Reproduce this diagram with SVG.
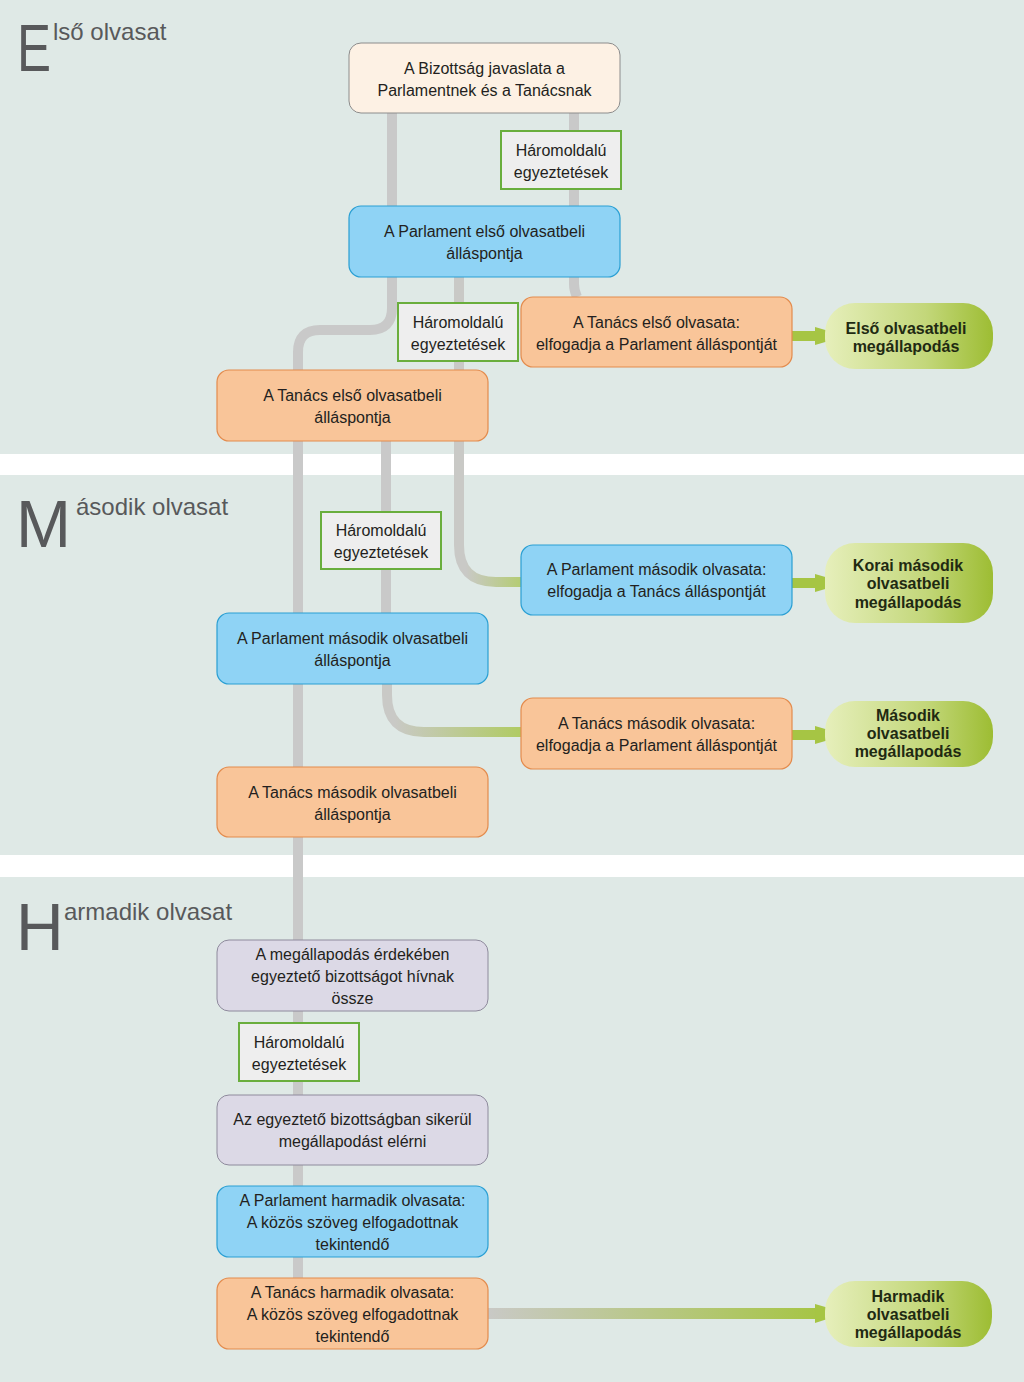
<svg xmlns="http://www.w3.org/2000/svg" width="1024" height="1382" viewBox="0 0 1024 1382">
<defs>
<style>
.t{font-family:"Liberation Sans",Arial,sans-serif;font-size:16px;fill:#231f20;text-anchor:middle}
.g{font-family:"Liberation Sans",Arial,sans-serif;font-size:16px;font-weight:bold;fill:#1f2a12;text-anchor:middle}
.sec{font-family:"Liberation Sans",Arial,sans-serif;fill:#58595b}
.big{font-size:66px}
.small{font-size:24px}
.cream{fill:#fdf1e4;stroke:#8c8c8c;stroke-width:1}
.blue{fill:#8fd3f5;stroke:#2a9fd3;stroke-width:1.2}
.orange{fill:#f9c599;stroke:#e38b4d;stroke-width:1.2}
.lav{fill:#dcd9e6;stroke:#8e8a9c;stroke-width:1}
.tri{fill:#eeeeee;stroke:#6aae3d;stroke-width:2}
.green{fill:url(#gg)}
.line{fill:none;stroke:#c9c9c9;stroke-width:10}
.arr{fill:#a6c544}
</style>
<linearGradient id="gg" x1="0" y1="0" x2="1" y2="0">
<stop offset="0" stop-color="#e6efbb"/>
<stop offset="0.6" stop-color="#c3d77a"/>
<stop offset="1" stop-color="#9dbd33"/>
</linearGradient>
<linearGradient id="gD" gradientUnits="userSpaceOnUse" x1="466" y1="0" x2="522" y2="0">
<stop offset="0" stop-color="#c9c9c6"/>
<stop offset="1" stop-color="#b4cc72"/>
</linearGradient>
<linearGradient id="gE" gradientUnits="userSpaceOnUse" x1="394" y1="0" x2="522" y2="0">
<stop offset="0" stop-color="#c9c9c6"/>
<stop offset="1" stop-color="#b0cb62"/>
</linearGradient>
<linearGradient id="gB" gradientUnits="userSpaceOnUse" x1="488" y1="0" x2="820" y2="0">
<stop offset="0" stop-color="#c9c9c6"/>
<stop offset="1" stop-color="#a6c544"/>
</linearGradient>
</defs>

<!-- background -->
<rect x="0" y="0" width="1024" height="1382" fill="#ffffff"/>
<rect x="0" y="0" width="1024" height="454" fill="#dfe9e6"/>
<rect x="0" y="475" width="1024" height="380" fill="#dfe9e6"/>
<rect x="0" y="877" width="1024" height="505" fill="#dfe9e6"/>

<!-- section titles -->
<g id="title1">
<text class="sec big" x="17" y="71" textLength="34" lengthAdjust="spacingAndGlyphs">E</text>
<text class="sec small" x="53" y="40">lső olvasat</text>
</g>
<g id="title2">
<text class="sec big" x="16" y="547">M</text>
<text class="sec small" x="76" y="515">ásodik olvasat</text>
</g>
<g id="title3">
<text class="sec big" x="16" y="950">H</text>
<text class="sec small" x="64" y="920">armadik olvasat</text>
</g>

<!-- connectors -->
<g id="connectors">
<path class="line" d="M392,113 V206"/>
<path class="line" d="M574,113 V206"/>
<path class="line" d="M574,277 V284 Q574,290 577,297"/>
<path class="line" d="M392,277 V308 Q392,330 370,330 H320 Q298,330 298,352 V1300"/>
<path class="line" d="M459,277 V545 Q459,582 496,582 H522" style="stroke:url(#gD)"/>
<path class="line" d="M386,441 V613"/>
<path class="line" d="M387,684 V695 Q387,732 424,732 H522" style="stroke:url(#gE)"/>
<rect x="488" y="1308" width="332" height="11" fill="url(#gB)"/>
<rect class="arr" x="792" y="331" width="26" height="10"/>
<polygon class="arr" points="815,327 846,336 815,345"/>
<rect class="arr" x="792" y="578" width="26" height="10"/>
<polygon class="arr" points="815,574 846,583 815,592"/>
<rect class="arr" x="792" y="730" width="26" height="10"/>
<polygon class="arr" points="815,726 846,735 815,744"/>
<polygon class="arr" points="815,1304 846,1313 815,1323"/>
</g>

<!-- nodes -->
<g id="n-commission">
<rect class="cream" x="349" y="43" width="271" height="70" rx="12"/>
<text class="t" x="484.5" y="74">A Bizottság javaslata a</text>
<text class="t" x="484.5" y="96">Parlamentnek és a Tanácsnak</text>
</g>
<g id="n-tri1">
<rect class="tri" x="501" y="131" width="120" height="58"/>
<text class="t" x="561" y="156">Háromoldalú</text>
<text class="t" x="561" y="178">egyeztetések</text>
</g>
<g id="n-ep1pos">
<rect class="blue" x="349" y="206" width="271" height="71" rx="12"/>
<text class="t" x="484.5" y="237">A Parlament első olvasatbeli</text>
<text class="t" x="484.5" y="259">álláspontja</text>
</g>
<g id="n-tri2">
<rect class="tri" x="398" y="303" width="120" height="58"/>
<text class="t" x="458" y="328">Háromoldalú</text>
<text class="t" x="458" y="350">egyeztetések</text>
</g>
<g id="n-co1read">
<rect class="orange" x="521" y="297" width="271" height="70" rx="12"/>
<text class="t" x="656.5" y="328">A Tanács első olvasata:</text>
<text class="t" x="656.5" y="350">elfogadja a Parlament álláspontját</text>
</g>
<g id="n-agr1">
<rect class="green" x="825" y="303" width="168" height="66" rx="30"/>
<text class="g" x="906" y="334">Első olvasatbeli</text>
<text class="g" x="906" y="352">megállapodás</text>
</g>
<g id="n-co1pos">
<rect class="orange" x="217" y="370" width="271" height="71" rx="12"/>
<text class="t" x="352.5" y="401">A Tanács első olvasatbeli</text>
<text class="t" x="352.5" y="423">álláspontja</text>
</g>

<g id="n-tri3">
<rect class="tri" x="321" y="512" width="120" height="57"/>
<text class="t" x="381" y="536">Háromoldalú</text>
<text class="t" x="381" y="558">egyeztetések</text>
</g>
<g id="n-ep2read">
<rect class="blue" x="521" y="545" width="271" height="70" rx="12"/>
<text class="t" x="656.5" y="575">A Parlament második olvasata:</text>
<text class="t" x="656.5" y="597">elfogadja a Tanács álláspontját</text>
</g>
<g id="n-agr2">
<rect class="green" x="825" y="543" width="168" height="80" rx="30"/>
<text class="g" x="908" y="571">Korai második</text>
<text class="g" x="908" y="589">olvasatbeli</text>
<text class="g" x="908" y="608">megállapodás</text>
</g>
<g id="n-ep2pos">
<rect class="blue" x="217" y="613" width="271" height="71" rx="12"/>
<text class="t" x="352.5" y="644">A Parlament második olvasatbeli</text>
<text class="t" x="352.5" y="666">álláspontja</text>
</g>
<g id="n-co2read">
<rect class="orange" x="521" y="698" width="271" height="71" rx="12"/>
<text class="t" x="656.5" y="729">A Tanács második olvasata:</text>
<text class="t" x="656.5" y="751">elfogadja a Parlament álláspontját</text>
</g>
<g id="n-agr3">
<rect class="green" x="825" y="701" width="168" height="66" rx="30"/>
<text class="g" x="908" y="721">Második</text>
<text class="g" x="908" y="739">olvasatbeli</text>
<text class="g" x="908" y="757">megállapodás</text>
</g>
<g id="n-co2pos">
<rect class="orange" x="217" y="767" width="271" height="70" rx="12"/>
<text class="t" x="352.5" y="798">A Tanács második olvasatbeli</text>
<text class="t" x="352.5" y="820">álláspontja</text>
</g>

<g id="n-conc">
<rect class="lav" x="217" y="940" width="271" height="71" rx="12"/>
<text class="t" x="352.5" y="960">A megállapodás érdekében</text>
<text class="t" x="352.5" y="982">egyeztető bizottságot hívnak</text>
<text class="t" x="352.5" y="1004">össze</text>
</g>
<g id="n-tri4">
<rect class="tri" x="239" y="1023" width="120" height="58"/>
<text class="t" x="299" y="1048">Háromoldalú</text>
<text class="t" x="299" y="1070">egyeztetések</text>
</g>
<g id="n-concagr">
<rect class="lav" x="217" y="1095" width="271" height="70" rx="12"/>
<text class="t" x="352.5" y="1125">Az egyeztető bizottságban sikerül</text>
<text class="t" x="352.5" y="1147">megállapodást elérni</text>
</g>
<g id="n-ep3">
<rect class="blue" x="217" y="1186" width="271" height="71" rx="12"/>
<text class="t" x="352.5" y="1206">A Parlament harmadik olvasata:</text>
<text class="t" x="352.5" y="1228">A közös szöveg elfogadottnak</text>
<text class="t" x="352.5" y="1250">tekintendő</text>
</g>
<g id="n-co3">
<rect class="orange" x="217" y="1278" width="271" height="71" rx="12"/>
<text class="t" x="352.5" y="1298">A Tanács harmadik olvasata:</text>
<text class="t" x="352.5" y="1320">A közös szöveg elfogadottnak</text>
<text class="t" x="352.5" y="1342">tekintendő</text>
</g>
<g id="n-agr4">
<rect class="green" x="825" y="1281" width="167" height="66" rx="30"/>
<text class="g" x="908" y="1302">Harmadik</text>
<text class="g" x="908" y="1320">olvasatbeli</text>
<text class="g" x="908" y="1338">megállapodás</text>
</g>
</svg>
